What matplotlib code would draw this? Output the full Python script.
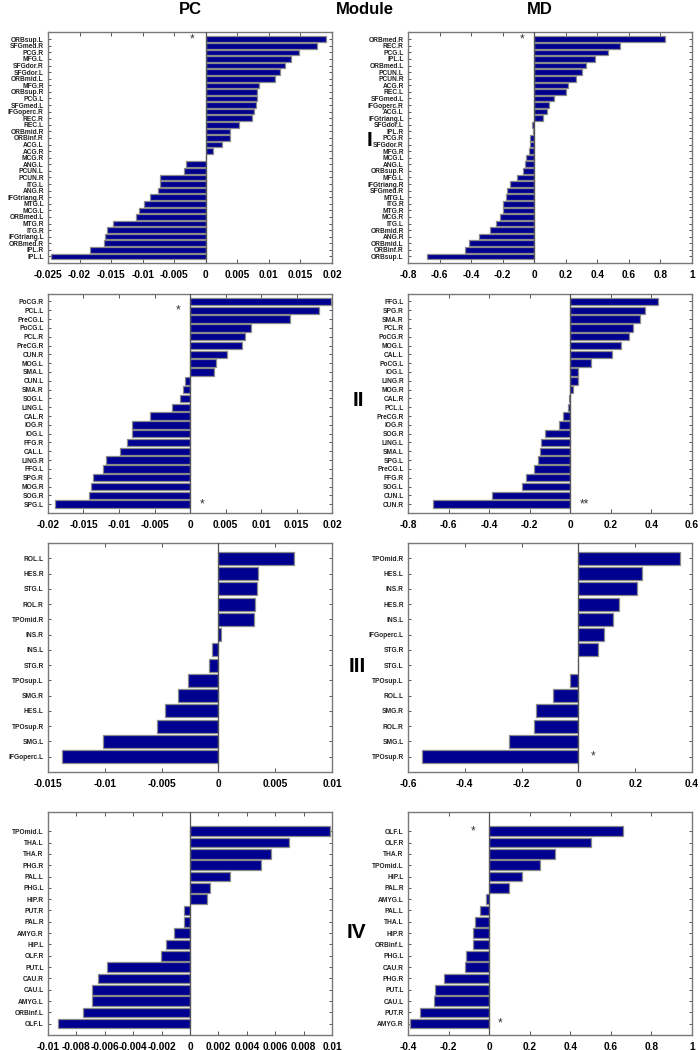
import numpy as np
import matplotlib
matplotlib.use("Agg")
import matplotlib.pyplot as plt

plt.rcParams["font.family"] = ["Liberation Sans", "DejaVu Sans"]

# ---- Module I ----
pc1_labels = ["ORBsup.L", "SFGmed.R", "PCG.R", "MFG.L", "SFGdor.R", "SFGdor.L", "ORBmid.L",
              "MFG.R", "ORBsup.R", "PCG.L", "SFGmed.L", "IFGoperc.R", "REC.R", "REC.L",
              "ORBmid.R", "ORBinf.R", "ACG.L", "ACG.R", "MCG.R", "ANG.L", "PCUN.L", "PCUN.R",
              "ITG.L", "ANG.R", "IFGtriang.R", "MTG.L", "MCG.L", "ORBmed.L", "MTG.R", "ITG.R",
              "IFGtriang.L", "ORBmed.R", "IPL.R", "IPL.L"]
pc1_values = [0.0190, 0.0176, 0.0148, 0.01355, 0.0125, 0.0117, 0.0109,
              0.0085, 0.0081, 0.0081, 0.0080, 0.0077, 0.0073, 0.0053,
              0.0039, 0.0038, 0.0025, 0.0012, 0.0, -0.0032, -0.0034, -0.0072,
              -0.0072, -0.0075, -0.0088, -0.0098, -0.0106, -0.0111, -0.0147, -0.0156,
              -0.0160, -0.0161, -0.0183, -0.0246]

md1_labels = ["ORBmed.R", "REC.R", "PCG.L", "IPL.L", "ORBmed.L", "PCUN.L", "PCUN.R", "ACG.R",
              "REC.L", "SFGmed.L", "IFGoperc.R", "ACG.L", "IFGtriang.L", "SFGdor.L", "IPL.R",
              "PCG.R", "SFGdor.R", "MFG.R", "MCG.L", "ANG.L", "ORBsup.R", "MFG.L", "IFGtriang.R",
              "SFGmed.R", "MTG.L", "ITG.R", "MTG.R", "MCG.R", "ITG.L", "ORBmid.R", "ANG.R",
              "ORBmid.L", "ORBinf.R", "ORBsup.L"]
md1_values = [0.83, 0.544, 0.47, 0.387, 0.328, 0.305, 0.267, 0.214,
              0.201, 0.123, 0.091, 0.083, 0.057, -0.013, -0.010,
              -0.027, -0.025, -0.030, -0.049, -0.061, -0.072, -0.106, -0.152,
              -0.171, -0.182, -0.195, -0.201, -0.214, -0.243, -0.279, -0.351,
              -0.415, -0.440, -0.679]

# ---- Module II ----
pc2_labels = ["PoCG.R", "PCL.L", "PreCG.L", "PoCG.L", "PCL.R", "PreCG.R", "CUN.R", "MOG.L",
              "SMA.L", "CUN.L", "SMA.R", "SOG.L", "LING.L", "CAL.R", "IOG.R", "IOG.L", "FFG.R",
              "CAL.L", "LING.R", "FFG.L", "SPG.R", "MOG.R", "SOG.R", "SPG.L"]
pc2_values = [0.0198, 0.0182, 0.0141, 0.0086, 0.0078, 0.0073, 0.0052, 0.0037,
              0.0034, -0.0007, -0.0010, -0.0014, -0.0026, -0.0057, -0.0081, -0.0082, -0.0089,
              -0.0099, -0.0119, -0.0122, -0.0136, -0.0139, -0.0142, -0.0190]

md2_labels = ["FFG.L", "SPG.R", "SMA.R", "PCL.R", "PoCG.R", "MOG.L", "CAL.L", "PoCG.L",
              "IOG.L", "LING.R", "MOG.R", "CAL.R", "PCL.L", "PreCG.R", "IOG.R", "SOG.R",
              "LING.L", "SMA.L", "SPG.L", "PreCG.L", "FFG.R", "SOG.L", "CUN.L", "CUN.R"]
md2_values = [0.43, 0.369, 0.344, 0.310, 0.287, 0.249, 0.207, 0.103,
              0.036, 0.036, 0.015, -0.007, -0.013, -0.036, -0.056, -0.123,
              -0.144, -0.151, -0.159, -0.179, -0.220, -0.236, -0.385, -0.675]

# ---- Module III ----
pc3_labels = ["ROL.L", "HES.R", "STG.L", "ROL.R", "TPOmid.R", "INS.R", "INS.L", "STG.R",
              "TPOsup.L", "SMG.R", "HES.L", "TPOsup.R", "SMG.L", "IFGoperc.L"]
pc3_values = [0.00668, 0.0035, 0.00344, 0.0032, 0.0031, 0.0002, -0.0006, -0.00087,
              -0.00265, -0.0036, -0.0047, -0.0054, -0.0102, -0.0138]

md3_labels = ["TPOmid.R", "HES.L", "INS.R", "HES.R", "INS.L", "IFGoperc.L", "STG.R", "STG.L",
              "TPOsup.L", "ROL.L", "SMG.R", "ROL.R", "SMG.L", "TPOsup.R"]
md3_values = [0.358, 0.224, 0.206, 0.144, 0.122, 0.0895, 0.0698, -0.001,
              -0.031, -0.0895, -0.149, -0.157, -0.244, -0.550]

# ---- Module IV ----
pc4_labels = ["TPOmid.L", "THA.L", "THA.R", "PHG.R", "PAL.L", "PHG.L", "HIP.R", "PUT.R",
              "PAL.R", "AMYG.R", "HIP.L", "OLF.R", "PUT.L", "CAU.R", "CAU.L", "AMYG.L",
              "ORBinf.L", "OLF.L"]
pc4_values = [0.00986, 0.00699, 0.0057, 0.0050, 0.00285, 0.00143, 0.00119, -0.0004,
              -0.0004, -0.00114, -0.00166, -0.00203, -0.00586, -0.00645, -0.00689, -0.00689,
              -0.00755, -0.00932]

md4_labels = ["OLF.L", "OLF.R", "THA.R", "TPOmid.L", "HIP.L", "PAL.R", "AMYG.L", "PAL.L",
              "THA.L", "HIP.R", "ORBinf.L", "PHG.L", "CAU.R", "PHG.R", "PUT.L", "CAU.L",
              "PUT.R", "AMYG.R"]
md4_values = [0.658, 0.500, 0.327, 0.249, 0.160, 0.098, -0.015, -0.046,
              -0.069, -0.079, -0.079, -0.116, -0.119, -0.224, -0.265, -0.272,
              -0.339, -0.390]

# significance marks: (region, x value, text)
pc1_stars = [("ORBsup.L", -0.0022, "*")]
md1_stars = [("ORBmed.R", -0.08, "*")]
pc2_stars = [("PCL.L", -0.0017, "*"), ("SPG.L", 0.0017, "*")]
md2_stars = [("CUN.R", 0.07, "**")]
pc3_stars = []
md3_stars = [("TPOsup.R", 0.05, "*")]
pc4_stars = []
md4_stars = [("OLF.L", -0.08, "*"), ("AMYG.R", 0.055, "*")]

modules = ["I", "II", "III", "IV"]

# axes layout in pixels: (top, bottom)
rows_px = [(32, 263), (294, 513), (543, 772), (812, 1035)]
top_pad = [1.1, 0.85, 1.0, 1.7]

panels = [
    (pc1_labels, pc1_values, pc1_stars, (-0.025, 0.02), 0.005),
    (md1_labels, md1_values, md1_stars, (-0.8, 1.0), 0.2),
    (pc2_labels, pc2_values, pc2_stars, (-0.02, 0.02), 0.005),
    (md2_labels, md2_values, md2_stars, (-0.8, 0.6), 0.2),
    (pc3_labels, pc3_values, pc3_stars, (-0.015, 0.01), 0.005),
    (md3_labels, md3_values, md3_stars, (-0.6, 0.4), 0.2),
    (pc4_labels, pc4_values, pc4_stars, (-0.01, 0.01), 0.002),
    (md4_labels, md4_values, md4_stars, (-0.4, 1.0), 0.2),
]

W, H = 700, 1050
fig = plt.figure(figsize=(7, 10.5), dpi=100)

def fmt(v):
    v = round(v, 6)
    if abs(v) < 1e-12:
        return "0"
    return f"{v:g}"

for i, (labels, values, stars, xlim, step) in enumerate(panels):
    r, c = divmod(i, 2)
    top, bot = rows_px[r]
    x0, x1 = (48, 332) if c == 0 else (408, 692)
    ax = fig.add_axes([x0 / W, 1 - bot / H, (x1 - x0) / W, (bot - top) / H])
    n = len(labels)
    y = np.arange(n)
    ax.barh(y, values, height=0.85, color="#000090", edgecolor="#8a8a8a", linewidth=0.9, zorder=2)
    ax.axvline(0, color="#555555", linewidth=0.9, zorder=3)
    ax.set_xlim(*xlim)
    ax.set_ylim(n - 0.0, -top_pad[r])
    ticks = np.arange(xlim[0], xlim[1] + step / 2, step)
    ax.set_xticks(ticks)
    ax.set_xticklabels([fmt(t) for t in ticks], fontsize=7.3, fontweight="bold")
    ax.set_yticks(y)
    ax.set_yticklabels(labels, fontsize=4.8, fontweight="bold", color="#222222")
    ax.tick_params(axis="x", direction="in", top=True, length=3, width=0.7, pad=5, colors="#555555",
                   labelcolor="black")
    ax.tick_params(axis="y", direction="in", right=True, length=2.5, width=0.7, pad=3, colors="#555555",
                   labelcolor="#222222")
    for sp in ax.spines.values():
        sp.set_color("#777777")
        sp.set_linewidth(1.0)
    for name, xv, txt in stars:
        ax.text(xv, labels.index(name), txt, ha="center", va="center", fontsize=8.5, color="#333333")

fig.text(190 / W, 1 - 10 / H, "PC", ha="center", va="center", fontsize=12, fontweight="bold")
fig.text(365 / W, 1 - 10 / H, "Module", ha="center", va="center", fontsize=12, fontweight="bold")
fig.text(540 / W, 1 - 10 / H, "MD", ha="center", va="center", fontsize=12, fontweight="bold")

mod_pos = [(370, 140), (358, 400), (357, 667), (356, 933)]
for m, (mx, my) in zip(modules, mod_pos):
    fig.text(mx / W, 1 - my / H, m, ha="center", va="center", fontsize=15, fontweight="bold")

fig.savefig("out.png", dpi=100)
